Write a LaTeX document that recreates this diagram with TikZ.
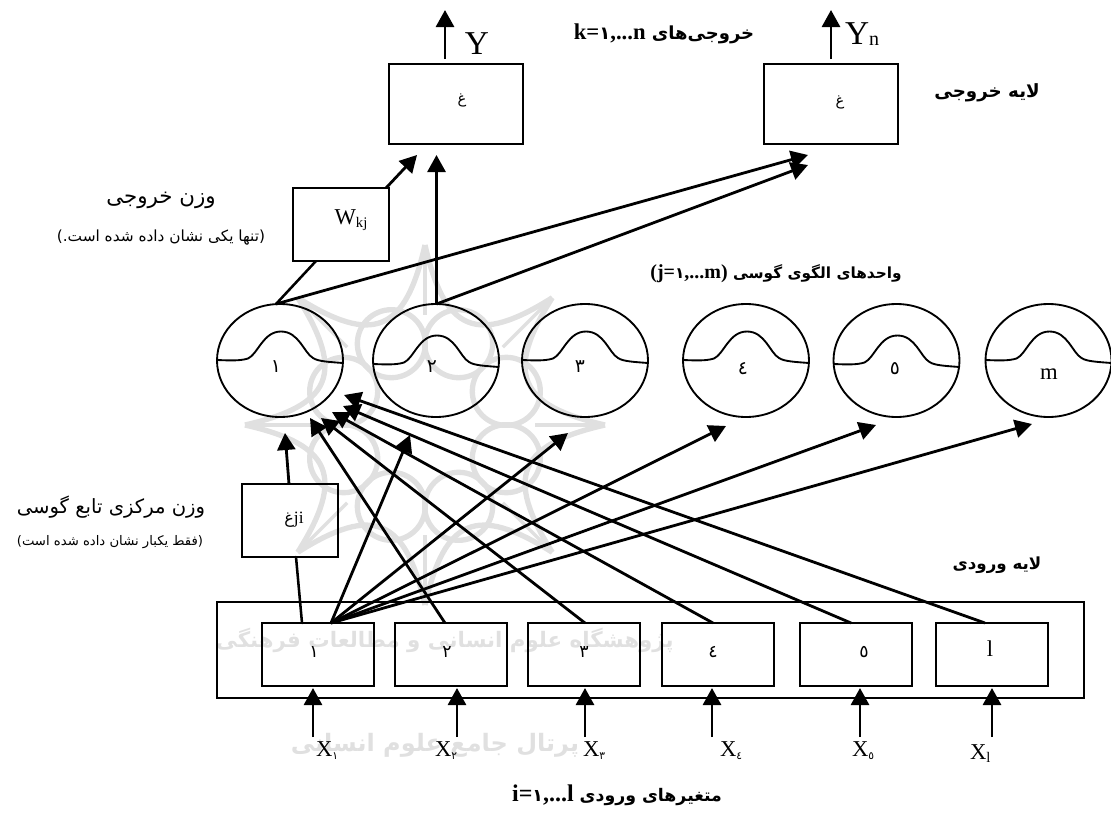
\documentclass[tikz,border=0pt]{standalone}
\usepackage{fontspec}
\setmainfont{Liberation Serif}
\newfontfamily\fa[Script=Arabic]{DejaVu Sans}
\TeXXeTstate=1
\usetikzlibrary{arrows.meta,shapes.geometric}
\def\px{0.75pt}
\definecolor{wm}{gray}{0.88}
\newcommand{\fs}[1]{\fontsize{#1}{#1}\selectfont}
\newcommand{\fasub}[1]{\raisebox{-0.35ex}{\fa\fs{8}#1}}
\tikzset{
  box/.style={draw,line width=1.5pt,inner sep=0pt,minimum width=#1*\px},
  lay/.style={box=134,minimum height=80*\px},
  inb/.style={box=112,minimum height=63*\px},
  circ/.style={draw,ellipse,line width=1.4pt,inner sep=0pt,minimum width=126*\px,minimum height=113*\px},
  lab/.style={inner sep=0pt,outer sep=0pt},
  arr/.style={line width=2.1pt,-{Triangle[length=17*\px,width=18*\px]}},
  con/.style={line width=1.9pt,line cap=round},
  bump/.style={line width=1.4pt},
  wmk/.style={draw=wm,line width=4pt,fill=none}
}
\newcommand{\bump}[2]{% centre x, base y
  \draw[bump] (#1-63,#2) .. controls (#1-50,#2+0.5) and (#1-40,#2+1) .. (#1-32,#2-1.5)
   .. controls (#1-22,#2-6) and (#1-17,#2-28.5) .. (#1+1,#2-28.5)
   .. controls (#1+19,#2-28.5) and (#1+24,#2-7) .. (#1+33,#2-2)
   .. controls (#1+38,#2+1.5) and (#1+50,#2+2) .. (#1+63,#2+3);
}
\begin{document}
\begin{tikzpicture}[x=0.75pt,y=-0.75pt]
\useasboundingbox (0,0) rectangle (1111,814);
% watermark
\begin{scope}
 \foreach \a in {0,45,...,315}{
   \draw[wmk] (425,425)++(\a:180) .. controls ([shift={(\a+12:95)}]425,425) and ([shift={(\a+33:95)}]425,425) .. ([shift={(\a+45:180)}]425,425);
   \draw[wmk] ([shift={(\a+22.5:88)}]425,425) circle (34);
   \draw[wmk,line width=2.5pt] (425,425)++(\a:180) -- ([shift={(\a:110)}]425,425);
 }
 \node[lab,text=wm] (wm1) at (445,640) {\fa\bfseries\fs{16}\beginR پژوهشگاه علوم انسانی و مطالعات فرهنگی\endR};
 \node[lab,text=wm] (wm2) at (435,745) {\fa\bfseries\fs{18}\beginR پرتال جامع علوم انسانی\endR};
\end{scope}
% output layer
\node[lay] (o1) at (456,104) {};
\node[lay] (o2) at (831,104) {};
\node[lab] (o1t) at (462,100) {\fa\fs{11}غ};
\node[lab] (o2t) at (840,102) {\fa\fs{11}غ};
\coordinate (y1) at (445,10); \coordinate (y1s) at (445,59);
\coordinate (y2) at (831,10); \coordinate (y2s) at (831,59);
\draw[arr] (y1s) -- (y1);
\draw[arr] (y2s) -- (y2);
\node[lab] (ylab) at (477,44) {\fs{25}Y};
\node[lab,anchor=base west] (ylabn) at (845,44) {\fs{25}Y\raisebox{-0.1ex}{\fs{15}n}};
\node[lab] (kl) at (664,34) {\fa\bfseries\fs{13.5}\beginR خروجی‌های \beginL{\rmfamily\bfseries\fs{17}k=}١{\rmfamily\bfseries\fs{17},...n}\endL\endR};
\node[lab] (ol) at (987,93) {\fa\bfseries\fs{13.7}\beginR لایه خروجی\endR};
% weight box
\node[box=95.5,minimum height=73*\px] (w) at (340.75,224.5) {};
\node[lab] (wt) at (351,220) {\fs{17}W\raisebox{-0.3ex}{\fs{11}kj}};
\node[lab] (wl1) at (161,200) {\fa\fs{16}\beginR وزن خروجی\endR};
\node[lab] (wl2) at (161,238) {\fa\fs{11.5}\beginR(تنها یکی نشان داده شده است.)\endR};
% gaussian units
\node[circ] (c1) at (280,360.5) {};
\node[circ] (c2) at (436,360.5) {};
\node[circ] (c3) at (585,360.5) {};
\node[circ] (c4) at (746,360.5) {};
\node[circ] (c5) at (896.5,360.5) {};
\node[circ] (c6) at (1048.5,360.5) {};
\bump{280}{360}\bump{436}{364}\bump{585}{360}\bump{746}{360}\bump{896.5}{364}\bump{1048.5}{360}
\node[lab] (c1t) at (276,367) {\fa\fs{14}١};
\node[lab] (c2t) at (432,367) {\fa\fs{14}٢};
\node[lab] (c3t) at (580,367) {\fa\fs{14}٣};
\node[lab] (c4t) at (743,369) {\fa\fs{14}٤};
\node[lab] (c5t) at (895,369) {\fa\fs{14}٥};
\node[lab] (c6t) at (1049,374) {\fs{17}m};
\node[lab] (ul) at (776,274) {\fa\bfseries\fs{11.5}\beginR واحدهای الگوی گوسی \beginL{\rmfamily\bfseries\fs{15}(j=}١{\rmfamily\bfseries\fs{15},...m)}\endL\endR};
% connectors to output
\coordinate (c1top) at (276,304); \coordinate (c2top) at (436.5,304);
\coordinate (wbot) at (316,261); \coordinate (wtop) at (386,188);
\coordinate (ti1) at (417,155); \coordinate (ti2) at (436.5,155);
\coordinate (ti3) at (808,155); \coordinate (ti4) at (808,165);
\draw[con] (c1top) -- (wbot);
\draw[arr] (wtop) -- (ti1);
\draw[arr] (c2top) -- (ti2);
\draw[arr] (c1top) -- (ti3);
\draw[arr] (c2top) -- (ti4);
% gji box
\node[box=96,minimum height=73*\px] (g) at (290,520.5) {};
\node[lab] (gt) at (294,520) {\fa\fs{12}\beginR غ\endR\rmfamily\fs{13}ji};
\node[lab] (gl1) at (111,507) {\fa\fs{14.7}\beginR وزن مرکزی تابع گوسی\endR};
\node[lab] (gl2) at (110,542) {\fa\fs{9.9}\beginR(فقط یکبار نشان داده شده است)\endR};
\coordinate (gtop) at (289,484); \coordinate (gbot) at (296,557);
\coordinate (ga) at (285,433); \coordinate (b1a) at (302,623);
\draw[arr] (gtop) -- (ga);
\draw[con] (gbot) -- (b1a);
% input layer
\node[box=867,minimum height=96*\px] (inp) at (650.5,650) {};
\node[inb] (b1) at (318,654.5) {};
\node[inb] (b2) at (451,654.5) {};
\node[inb] (b3) at (584,654.5) {};
\node[inb] (b4) at (718,654.5) {};
\node[inb] (b5) at (856,654.5) {};
\node[inb] (b6) at (992,654.5) {};
\node[lab] (b1t) at (314,652) {\fa\fs{13}١};
\node[lab] (b2t) at (447,652) {\fa\fs{13}٢};
\node[lab] (b3t) at (584,652) {\fa\fs{13}٣};
\node[lab] (b4t) at (713,652) {\fa\fs{13}٤};
\node[lab] (b5t) at (864,652) {\fa\fs{13}٥};
\node[lab] (b6t) at (990,649) {\fs{17}l};
\node[lab] (il) at (997,565) {\fa\bfseries\fs{12.5}\beginR لایه ورودی\endR};
% fan
\coordinate (ap) at (331,623);
\coordinate (t2) at (410,435); \coordinate (t3) at (568,433);
\coordinate (t4) at (726,426); \coordinate (t5) at (876,425); \coordinate (t6) at (1032,424);
\foreach \t in {t2,t3,t4,t5,t6}{\draw[arr] (ap) -- (\t);}
% to unit 1
\coordinate (s2) at (445,623); \coordinate (s3) at (585,623); \coordinate (s4) at (713,623);
\coordinate (s5) at (851,623); \coordinate (s6) at (985,623);
\coordinate (e2) at (310,418); \coordinate (e3) at (321,418); \coordinate (e4) at (332,412);
\coordinate (e5) at (343,406); \coordinate (e6) at (344,395);
\draw[arr] (s2) -- (e2); \draw[arr] (s3) -- (e3); \draw[arr] (s4) -- (e4);
\draw[arr] (s5) -- (e5); \draw[arr] (s6) -- (e6);
% inputs
\foreach \x/\n in {313/1,457/2,585/3,712/4,860/5,992/6}{
  \coordinate (xs\n) at (\x,737); \coordinate (xe\n) at (\x,688);
  \draw[arr] (xs\n) -- (xe\n);
}
\node[lab,anchor=base west] (x1) at (316,756) {\fs{17}X\fasub{١}};
\node[lab,anchor=base west] (x2) at (435,756) {\fs{17}X\fasub{٢}};
\node[lab,anchor=base west] (x3) at (583,756) {\fs{17}X\fasub{٣}};
\node[lab,anchor=base west] (x4) at (720,756) {\fs{17}X\fasub{٤}};
\node[lab,anchor=base west] (x5) at (852,756) {\fs{17}X\fasub{٥}};
\node[lab,anchor=base west] (x6) at (970,759) {\fs{17}X\raisebox{-0.3ex}{\fs{11}l}};
\node[lab] (vl) at (617,795) {\fa\bfseries\fs{13}\beginR متغیرهای ورودی \beginL{\rmfamily\bfseries\fs{18}i=}١{\rmfamily\bfseries\fs{18},...l}\endL\endR};
\end{tikzpicture}
\end{document}
